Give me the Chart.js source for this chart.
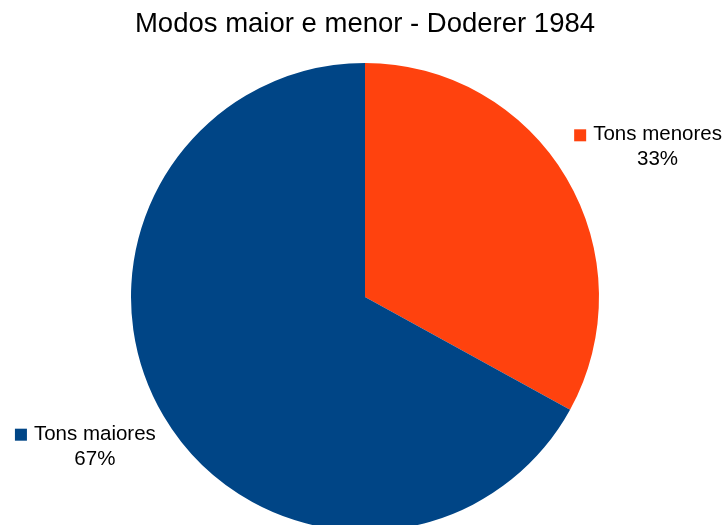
<!DOCTYPE html>
<html>
<head>
<meta charset="utf-8">
<title>Modos maior e menor</title>
<script src="https://cdn.jsdelivr.net/npm/chart.js@4/dist/chart.umd.min.js"></script>
<style>
  body { margin: 0; background: #fff; overflow: hidden; }
  .chart-wrap { width: 728px; height: 525px; }
</style>
</head>
<body>
<div class="chart-wrap"><canvas id="myChart"></canvas></div>
<script>
// data
const categories = ["Tons menores", "Tons maiores"];
const values = [33, 67];
const colors = ["#ff420e", "#004586"];

const FONT = "'Liberation Sans', Arial, sans-serif";

// labels outside each slice: color key + name, percentage underneath
const outsideLabels = {
  id: "outsideLabels",
  afterDatasetsDraw(chart) {
    const ctx = chart.ctx;
    const meta = chart.getDatasetMeta(0);
    const total = values.reduce((a, b) => a + b, 0);
    ctx.save();
    ctx.font = "20.5px " + FONT;
    ctx.textBaseline = "middle";
    meta.data.forEach((arc, i) => {
      const { x, y, startAngle, endAngle, outerRadius } = arc.getProps(
        ["x", "y", "startAngle", "endAngle", "outerRadius"],
        true
      );
      const mid = (startAngle + endAngle) / 2;
      const ax = x + Math.cos(mid) * (outerRadius + 9);
      const ay = y + Math.sin(mid) * (outerRadius + 9);

      const name = categories[i];
      const pct = Math.round((values[i] / total) * 100) + "%";
      const textW = ctx.measureText(name).width;
      const boxW = 19 + textW;
      const boxH = 52;

      const left = Math.cos(mid) >= 0 ? ax : ax - boxW;
      const top = Math.sin(mid) < 0 ? ay - boxH : ay;
      const line1 = top + 13.5;
      const line2 = top + 38.5;

      // color key
      ctx.fillStyle = colors[i];
      ctx.fillRect(left, line1 - 5.5, 12, 12);

      ctx.fillStyle = "#000";
      ctx.textAlign = "left";
      ctx.fillText(name, left + 19, line1);
      ctx.textAlign = "center";
      ctx.fillText(pct, left + 19 + textW / 2, line2);
    });
    ctx.restore();
  },
};

const myChart = document.getElementById("myChart");
const ctx = myChart.getContext("2d");

new Chart(ctx, {
  type: "pie",
  data: {
    labels: categories,
    datasets: [
      {
        data: values,
        backgroundColor: colors,
        borderWidth: 0,
        hoverOffset: 0,
      },
    ],
  },
  options: {
    responsive: true,
    maintainAspectRatio: false,
    animation: false,
    radius: 234,
    layout: {
      padding: { left: 2, right: 0, top: 0, bottom: 0 },
    },
    plugins: {
      legend: {
        display: false,
      },
      tooltip: {
        enabled: false,
      },
      title: {
        display: true,
        text: "Modos maior e menor - Doderer 1984",
        color: "#000",
        font: {
          family: FONT,
          size: 27.5,
          weight: "normal",
        },
        padding: { top: 8, bottom: 28 },
      },
    },
  },
  plugins: [outsideLabels],
});
</script>
</body>
</html>
